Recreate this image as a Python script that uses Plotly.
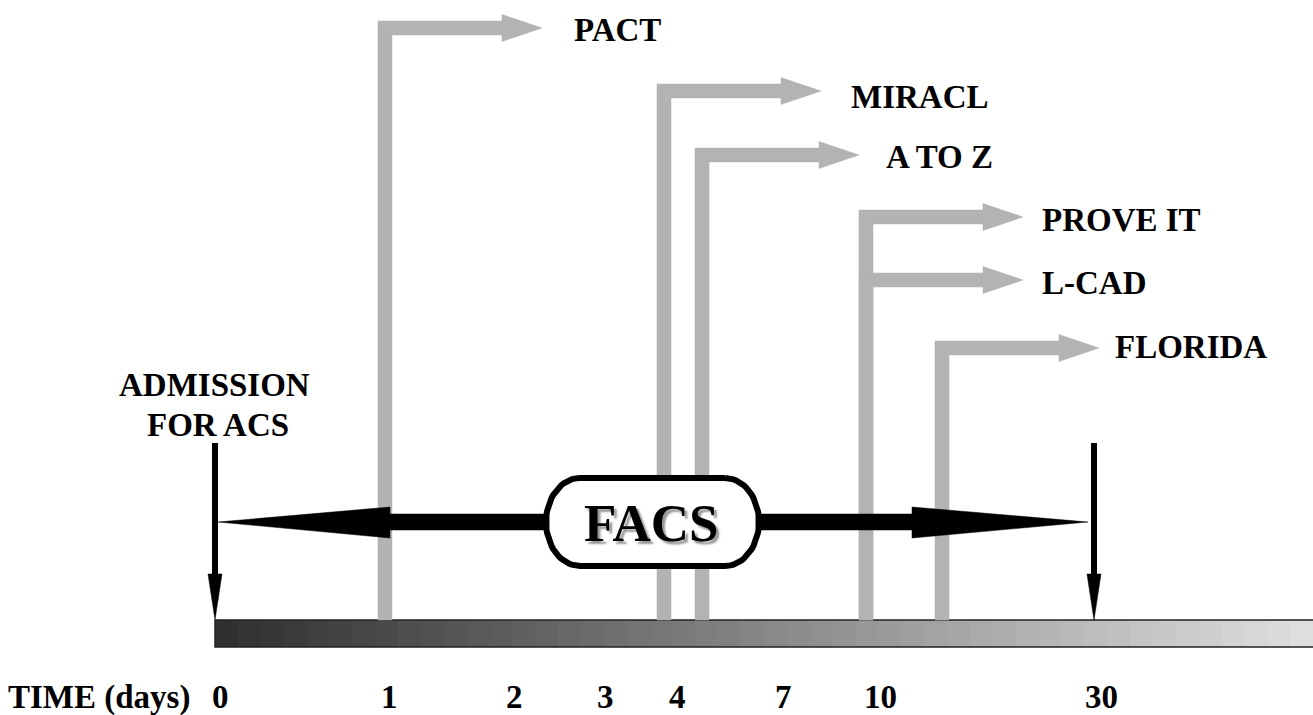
import numpy as np
import plotly.graph_objects as go

# ---------------- data ----------------
day_labels = ["0", "1", "2", "3", "4", "7", "10", "30"]
day_pos = [220, 389, 514, 605, 677, 783, 880, 1101]        # label centres along the time bar

trials = ["PACT", "MIRACL", "A TO Z", "PROVE IT", "L-CAD", "FLORIDA"]
trial_start = [385, 664, 702, 866, 866, 942]                 # where each trial begins on the time bar
trial_level = [28, 91, 155, 217, 280, 348]                   # height of each trial arrow
label_left = [572, 849, 884, 1040, 1040, 1113]
label_y = [30, 97, 157, 220, 283, 347]

admission_x = 215
day30_x = 1094

# ---------------- styles ----------------
FONT = "Liberation Serif, Times New Roman, serif"
GREY = "#b3b3b3"
BAR_TOP, BAR_BOT = 620, 647
BAR_LEFT, BAR_RIGHT = 215, 1313
LABEL_SIZE = 33

fig = go.Figure()

# gradient time bar
ncol = 48
edges = np.linspace(BAR_LEFT, BAR_RIGHT, ncol + 1)
fig.add_trace(go.Heatmap(
    x=edges, y=[BAR_TOP, BAR_BOT], z=[list(range(ncol))],
    colorscale=[[0, "#303030"], [1, "#dedede"]], showscale=False,
    hoverinfo="skip"))
fig.add_trace(go.Scatter(
    x=[BAR_LEFT, BAR_RIGHT + 5, BAR_RIGHT + 5, BAR_LEFT, BAR_LEFT],
    y=[BAR_TOP, BAR_TOP, BAR_BOT, BAR_BOT, BAR_TOP],
    mode="lines", line=dict(color="#222222", width=1.5), hoverinfo="skip"))

# grey trial arrows
hw, head_len, head_hw, shaft_len = 7, 40, 13.5, 157
for xs, yl in zip(trial_start, trial_level):
    tip = xs + shaft_len
    px = [xs - hw, xs - hw, tip - head_len, tip - head_len, tip, tip - head_len,
          tip - head_len, xs + hw, xs + hw, xs - hw]
    py = [BAR_TOP, yl - hw, yl - hw, yl - head_hw, yl, yl + head_hw,
          yl + hw, yl + hw, BAR_TOP, BAR_TOP]
    fig.add_trace(go.Scatter(x=px, y=py, mode="lines", fill="toself",
                             fillcolor=GREY, line=dict(color=GREY, width=0.5),
                             hoverinfo="skip"))

# black vertical arrows (admission, day 30)
for ax_ in [admission_x, day30_x]:
    fig.add_trace(go.Scatter(x=[ax_, ax_], y=[443, 578], mode="lines",
                             line=dict(color="black", width=6), hoverinfo="skip"))
    fig.add_trace(go.Scatter(x=[ax_ - 7, ax_ + 7, ax_, ax_ - 7], y=[574, 574, 620, 574],
                             mode="lines", fill="toself", fillcolor="black",
                             line=dict(color="black", width=0.5), hoverinfo="skip"))

# FACS double arrow
yc = 522
fig.add_trace(go.Scatter(x=[388, 914, 914, 388, 388], y=[514, 514, 530, 530, 514],
                         mode="lines", fill="toself", fillcolor="black",
                         line=dict(color="black", width=0.5), hoverinfo="skip"))
fig.add_trace(go.Scatter(x=[218, 390, 390, 218], y=[yc, 507, 538, yc],
                         mode="lines", fill="toself", fillcolor="black",
                         line=dict(color="black", width=0.5), hoverinfo="skip"))
fig.add_trace(go.Scatter(x=[1088, 912, 912, 1088], y=[yc, 507, 538, yc],
                         mode="lines", fill="toself", fillcolor="black",
                         line=dict(color="black", width=0.5), hoverinfo="skip"))

# FACS rounded box
x0, x1, y0, y1 = 546, 759, 478, 566
rx, ry = 34, 44
t = np.linspace(0, np.pi / 2, 20)
bx, by = [], []
bx += list(x1 - rx + rx * np.sin(t)); by += list(y0 + ry - ry * np.cos(t))
bx += list(x1 - rx + rx * np.cos(t)); by += list(y1 - ry + ry * np.sin(t))
bx += list(x0 + rx - rx * np.sin(t)); by += list(y1 - ry + ry * np.cos(t))
bx += list(x0 + rx - rx * np.cos(t)); by += list(y0 + ry - ry * np.sin(t))
bx.append(bx[0]); by.append(by[0])
fig.add_trace(go.Scatter(x=bx, y=by, mode="lines", fill="toself", fillcolor="white",
                         line=dict(color="black", width=6), hoverinfo="skip"))

annotations = []
annotations.append(dict(x=651, y=523, text="<b>FACS</b>", showarrow=False,
                        xanchor="center", yanchor="middle",
                        font=dict(family=FONT, size=53, color="black",
                                  shadow="3px 3px 2px #999999")))
for name, lx, ly in zip(trials, label_left, label_y):
    annotations.append(dict(x=lx, y=ly, text=f"<b>{name}</b>", showarrow=False,
                            xanchor="left", yanchor="middle",
                            font=dict(family=FONT, size=LABEL_SIZE, color="black")))
annotations.append(dict(x=214, y=385, text="<b>ADMISSION</b>", showarrow=False,
                        xanchor="center", yanchor="middle",
                        font=dict(family=FONT, size=LABEL_SIZE, color="black")))
annotations.append(dict(x=218, y=425, text="<b>FOR ACS</b>", showarrow=False,
                        xanchor="center", yanchor="middle",
                        font=dict(family=FONT, size=LABEL_SIZE, color="black")))
annotations.append(dict(x=6, y=697, text="<b>TIME (days)</b>", showarrow=False,
                        xanchor="left", yanchor="middle",
                        font=dict(family=FONT, size=LABEL_SIZE, color="black")))
for lab, pos in zip(day_labels, day_pos):
    annotations.append(dict(x=pos, y=697, text=f"<b>{lab}</b>", showarrow=False,
                            xanchor="center", yanchor="middle",
                            font=dict(family=FONT, size=LABEL_SIZE, color="black")))

fig.update_layout(
    width=1313, height=715, autosize=False,
    margin=dict(l=0, r=0, t=0, b=0),
    paper_bgcolor="white", plot_bgcolor="white",
    showlegend=False,
    xaxis=dict(range=[0, 1313], visible=False, fixedrange=True),
    yaxis=dict(range=[715, 0], visible=False, fixedrange=True),
    annotations=annotations,
)

fig.write_html("out.html", config={"displayModeBar": False},
               post_script="document.body.style.margin='0';document.body.style.overflow='hidden';")
